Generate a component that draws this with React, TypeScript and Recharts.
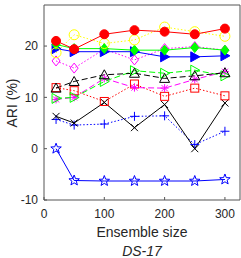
import React from 'react'
import { Line, LineChart, XAxis, YAxis } from 'recharts'

const ensembleSizes = [20, 50, 100, 150, 200, 250, 300]
const xTicks = [0, 100, 200, 300]
const yTicks = [-10, 0, 10, 20]

const redCircle = [21.0, 19.4, 22.3, 23.1, 22.8, 22.3, 23.4]
const yellowCircle = [18.7, 22.2, 20.5, 21.2, 23.7, 22.8, 21.9]
const greenDiamond = [20.3, 19.5, 19.5, 19.2, 19.2, 19.7, 19.2]
const blueTriangle = [19.5, 18.9, 18.9, 18.9, 17.9, 17.9, 18.1]
const magentaDiamond = [17.1, 15.7, 19.4, 17.3, 19.5, 19.9, 19.2]
const blackTriangle = [11.8, 13.1, 14.4, 14.7, 13.7, 14.2, 14.8]
const greenTriangle = [9.8, 10.0, 13.1, 15.2, 14.7, 15.3, 14.2]
const magentaAsterisk = [9.6, 10.0, 13.7, 11.9, 11.8, 13.5, 15.0]
const redSquare = [11.9, 11.3, 9.2, 12.6, 10.2, 11.8, 10.3]
const blackCross = [6.3, 5.0, 9.0, 4.1, 8.6, 0, 8.9]
const bluePlus = [5.7, 4.6, 4.8, 6.3, 6.4, 0.8, 3.4]
const blueStar = [0, -6.2, -6.3, -6.3, -6.3, -6.3, -6.0]

type Shape = 'circle' | 'diamond' | 'triUp' | 'triRight' | 'square' | 'cross' | 'plus' | 'asterisk' | 'star'

// drawn back to front
const series: { key: string; values: number[]; color: string; shape: Shape; filled: boolean; dash?: string }[] = [
  { key: 'star', values: blueStar, color: '#0000ff', shape: 'star', filled: false },
  { key: 'plus', values: bluePlus, color: '#0000ff', shape: 'plus', filled: false, dash: '1.5 2' },
  { key: 'cross', values: blackCross, color: '#000000', shape: 'cross', filled: false },
  { key: 'square', values: redSquare, color: '#ff0000', shape: 'square', filled: false, dash: '1.5 2' },
  { key: 'asterisk', values: magentaAsterisk, color: '#ff00ff', shape: 'asterisk', filled: false, dash: '6 3' },
  { key: 'greenTri', values: greenTriangle, color: '#00ff00', shape: 'triRight', filled: false, dash: '6 3' },
  { key: 'blackTri', values: blackTriangle, color: '#000000', shape: 'triUp', filled: false, dash: '6 3' },
  { key: 'magDiamond', values: magentaDiamond, color: '#ff00ff', shape: 'diamond', filled: false, dash: '1.5 2' },
  { key: 'blueTri', values: blueTriangle, color: '#0000ff', shape: 'triRight', filled: true },
  { key: 'greenDiamond', values: greenDiamond, color: '#00ff00', shape: 'diamond', filled: true },
  { key: 'yellow', values: yellowCircle, color: '#ffff00', shape: 'circle', filled: false, dash: '1.5 2' },
  { key: 'red', values: redCircle, color: '#ff0000', shape: 'circle', filled: true },
]

const data = ensembleSizes.map((size, i) => {
  const row: Record<string, number> = { size }
  series.forEach((s) => {
    row[s.key] = s.values[i]
  })
  return row
})

function starPoints(cx: number, cy: number, ro: number, ri: number) {
  const pts: string[] = []
  for (let k = 0; k < 10; k++) {
    const r = k % 2 === 0 ? ro : ri
    const a = -Math.PI / 2 + (k * Math.PI) / 5
    pts.push(`${cx + r * Math.cos(a)},${cy + r * Math.sin(a)}`)
  }
  return pts.join(' ')
}

function Marker({ cx, cy, shape, color, filled }: { cx?: number; cy?: number; shape: Shape; color: string; filled: boolean }) {
  if (cx == null || cy == null) return null
  const fill = filled ? color : 'none'
  const common = { stroke: color, strokeWidth: 1, fill }
  switch (shape) {
    case 'circle':
      return <circle cx={cx} cy={cy} r={filled ? 4.5 : 5} {...common} />
    case 'diamond':
      return <polygon points={`${cx},${cy - 5} ${cx + 4},${cy} ${cx},${cy + 5} ${cx - 4},${cy}`} {...common} />
    case 'triUp':
      return <polygon points={`${cx},${cy - 5} ${cx + 5},${cy + 4} ${cx - 5},${cy + 4}`} {...common} />
    case 'triRight':
      return <polygon points={`${cx + 5},${cy} ${cx - 4},${cy - 5} ${cx - 4},${cy + 5}`} {...common} />
    case 'square':
      return <rect x={cx - 4} y={cy - 4} width={8} height={8} {...common} />
    case 'cross':
      return (
        <g stroke={color} strokeWidth={1}>
          <line x1={cx - 3.5} y1={cy - 3.5} x2={cx + 3.5} y2={cy + 3.5} />
          <line x1={cx - 3.5} y1={cy + 3.5} x2={cx + 3.5} y2={cy - 3.5} />
        </g>
      )
    case 'plus':
      return (
        <g stroke={color} strokeWidth={1}>
          <line x1={cx - 4.5} y1={cy} x2={cx + 4.5} y2={cy} />
          <line x1={cx} y1={cy - 4.5} x2={cx} y2={cy + 4.5} />
        </g>
      )
    case 'asterisk':
      return (
        <g stroke={color} strokeWidth={1}>
          <line x1={cx - 4} y1={cy} x2={cx + 4} y2={cy} />
          <line x1={cx} y1={cy - 4} x2={cx} y2={cy + 4} />
          <line x1={cx - 3} y1={cy - 3} x2={cx + 3} y2={cy + 3} />
          <line x1={cx - 3} y1={cy + 3} x2={cx + 3} y2={cy - 3} />
        </g>
      )
    case 'star':
      return <polygon points={starPoints(cx, cy, 5.5, 2.3)} {...common} />
  }
  return null
}

const axisColor = '#555555'
const tickStyle = { fontSize: 12, fill: '#262626', fontFamily: '"Liberation Sans", Arial, sans-serif' }

export default function App() {
  return (
    <div
      style={{
        position: 'absolute',
        left: 0,
        top: 0,
        width: 241,
        height: 258,
        background: '#ffffff',
        fontFamily: '"Liberation Sans", Arial, sans-serif',
        color: '#262626',
      }}
    >
      <LineChart width={241} height={258} data={data} margin={{ top: 4, right: 0, left: 0, bottom: 0 }}>
        <XAxis
          dataKey="size"
          type="number"
          domain={[0, 325]}
          ticks={xTicks}
          height={58}
          tick={tickStyle}
          tickSize={-3}
          tickMargin={12}
          stroke={axisColor}
          interval={0}
        />
        <XAxis
          xAxisId="top"
          orientation="top"
          dataKey="size"
          type="number"
          domain={[0, 325]}
          ticks={xTicks}
          height={1}
          tick={false}
          tickSize={-3}
          stroke={axisColor}
        />
        <YAxis
          type="number"
          domain={[-10, 28]}
          ticks={yTicks}
          width={44}
          tick={tickStyle}
          tickSize={-3}
          tickMargin={9}
          stroke={axisColor}
          interval={0}
        />
        <YAxis
          yAxisId="right"
          orientation="right"
          type="number"
          domain={[-10, 28]}
          ticks={yTicks}
          width={1}
          tick={false}
          tickSize={-3}
          stroke={axisColor}
        />
        {series.map((s) => (
          <Line
            key={s.key}
            dataKey={s.key}
            stroke={s.color}
            strokeWidth={1}
            strokeDasharray={s.dash}
            isAnimationActive={false}
            dot={(p: any) => (
              <Marker key={`${s.key}-${p.index}`} cx={p.cx} cy={p.cy} shape={s.shape} color={s.color} filled={s.filled} />
            )}
            activeDot={false}
          />
        ))}
      </LineChart>
      <div
        style={{
          position: 'absolute',
          left: 12,
          top: 103,
          transform: 'translate(-50%, -50%) rotate(-90deg)',
          fontSize: 14,
          whiteSpace: 'nowrap',
        }}
      >
        ARI (%)
      </div>
      <div style={{ position: 'absolute', left: 44, width: 196, top: 224, textAlign: 'center', fontSize: 14 }}>
        Ensemble size
      </div>
      <div
        style={{ position: 'absolute', left: 44, width: 196, top: 243, textAlign: 'center', fontSize: 14, fontStyle: 'italic' }}
      >
        DS-17
      </div>
    </div>
  )
}
